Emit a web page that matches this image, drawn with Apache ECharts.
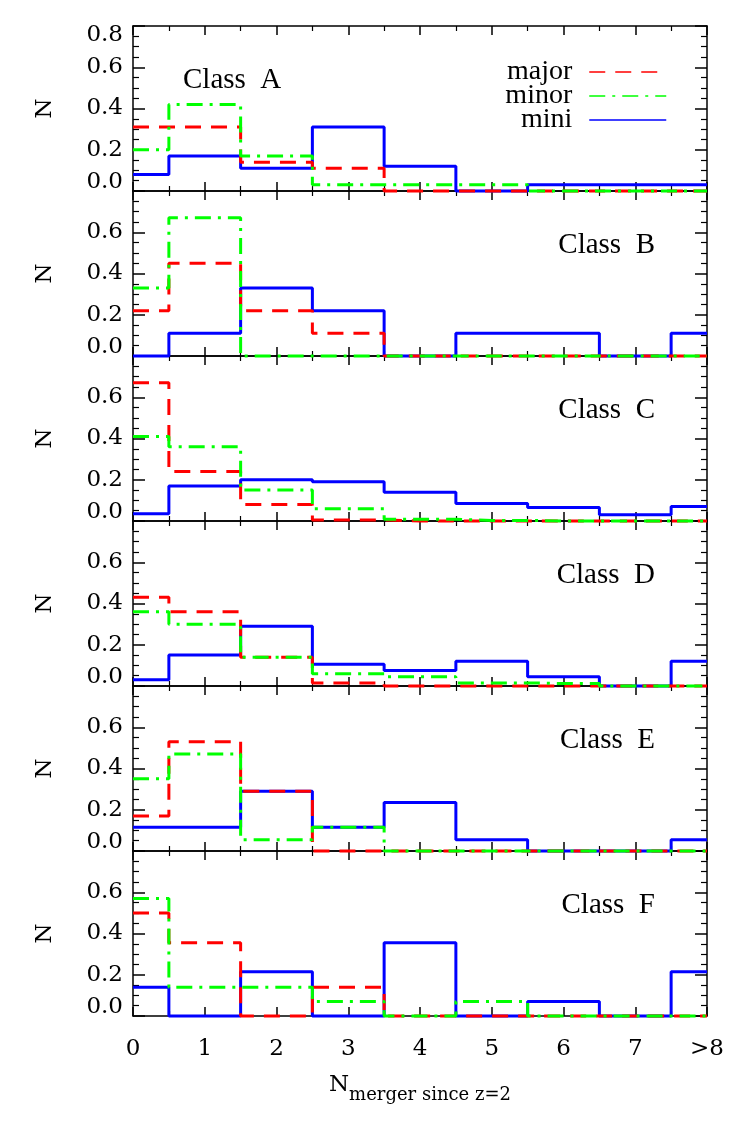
<!DOCTYPE html>
<html>
<head>
<meta charset="utf-8">
<script src="https://cdn.jsdelivr.net/npm/echarts@6/dist/echarts.min.js"></script>
<style>
  html, body { margin: 0; padding: 0; background: #fff; }
  #chart { width: 747px; height: 1122px; }
</style>
</head>
<body>
<div id="chart"></div>
<script>
// bin centres on the x axis and their tick labels
var binCenters = [0, 1, 2, 3, 4, 5, 6, 7, 8];
var xTickLabels = ['0', '1', '2', '3', '4', '5', '6', '7', '>8'];
var seriesNames = ['major', 'minor', 'mini'];
var classNames = ['Class A', 'Class B', 'Class C', 'Class D', 'Class E', 'Class F'];

// Class A
var majorA = [0.31, 0.31, 0.14, 0.11, 0, 0, 0, 0, 0];
var minorA = [0.20, 0.42, 0.17, 0.03, 0.03, 0.03, 0, 0, 0];
var miniA  = [0.08, 0.17, 0.11, 0.31, 0.12, 0, 0.03, 0.03, 0.03];
// Class B
var majorB = [0.22, 0.45, 0.22, 0.11, 0, 0, 0, 0, 0];
var minorB = [0.33, 0.67, 0, 0, 0, 0, 0, 0, 0];
var miniB  = [0, 0.11, 0.33, 0.22, 0, 0.11, 0.11, 0, 0.11];
// Class C
var majorC = [0.67, 0.24, 0.08, 0.005, 0, 0, 0, 0, 0];
var minorC = [0.41, 0.36, 0.15, 0.06, 0.008, 0.003, 0, 0, 0];
var miniC  = [0.035, 0.17, 0.20, 0.19, 0.14, 0.085, 0.065, 0.03, 0.07];
// Class D
var majorD = [0.43, 0.36, 0.14, 0.015, 0, 0, 0, 0, 0];
var minorD = [0.36, 0.30, 0.14, 0.06, 0.045, 0.015, 0.012, 0, 0];
var miniD  = [0.03, 0.15, 0.29, 0.105, 0.075, 0.12, 0.045, 0, 0.12];
// Class E
var majorE = [0.17, 0.53, 0.29, 0, 0, 0, 0, 0, 0];
var minorE = [0.35, 0.47, 0.055, 0.115, 0, 0, 0, 0, 0];
var miniE  = [0.115, 0.115, 0.29, 0.115, 0.235, 0.055, 0, 0, 0.055];
// Class F
var majorF = [0.50, 0.355, 0, 0.14, 0, 0, 0, 0, 0];
var minorF = [0.57, 0.14, 0.14, 0.07, 0, 0.07, 0, 0, 0];
var miniF  = [0.14, 0, 0.215, 0, 0.355, 0, 0.07, 0, 0.215];

var panels = [
  [majorA, minorA, miniA],
  [majorB, minorB, miniB],
  [majorC, minorC, miniC],
  [majorD, minorD, miniD],
  [majorE, minorE, miniE],
  [majorF, minorF, miniF]
];

var colors = { major: '#ff0000', minor: '#00ff00', mini: '#0000ff' };
var dashes = { major: [16, 10], minor: [16, 7, 3, 7], mini: 'solid' };
var tickFont = 'DejaVu Serif';
var textFont = 'Liberation Serif';

var gridLeft = 133, gridWidth = 574, gridTop = 26, panelH = 165;

var myChart = echarts.init(document.getElementById('chart'));

var grids = [], xAxes = [], yAxes = [], series = [], graphics = [];

panels.forEach(function (vals, i) {
  var last = i === panels.length - 1;
  grids.push({ left: gridLeft, width: gridWidth, top: gridTop + panelH * i, height: panelH });

  // bottom and top x axes (ticks pointing in)
  ['bottom', 'top'].forEach(function (pos) {
    xAxes.push({
      gridIndex: i, type: 'value', position: pos, min: 0, max: 8, interval: 1,
      axisLine: { onZero: false, lineStyle: { color: '#000', width: 1.5 } },
      axisTick: { inside: true, length: 9, lineStyle: { color: '#000', width: 1.5 } },
      minorTick: { show: true, splitNumber: 2, length: 5, lineStyle: { color: '#000', width: 1.2 } },
      splitLine: { show: false },
      axisLabel: {
        show: last && pos === 'bottom', margin: 22, color: '#000',
        fontFamily: tickFont, fontSize: 23,
        formatter: function (v) { return xTickLabels[binCenters.indexOf(v)]; }
      },
      name: last && pos === 'bottom' ? '{a|N}{b|merger since z=2}' : '',
      nameLocation: 'middle', nameGap: 58,
      nameTextStyle: {
        rich: {
          a: { fontFamily: tickFont, fontSize: 23, color: '#000', lineHeight: 30, verticalAlign: 'top' },
          b: { fontFamily: tickFont, fontSize: 18, color: '#000', lineHeight: 30, verticalAlign: 'bottom' }
        }
      }
    });
  });

  // left (labelled) and right y axes
  ['left', 'right'].forEach(function (pos) {
    yAxes.push({
      gridIndex: i, type: 'value', position: pos, min: 0, max: 0.8, interval: 0.2,
      axisLine: { show: true, onZero: false, lineStyle: { color: '#000', width: 1.5 } },
      axisTick: { inside: true, length: 12, lineStyle: { color: '#000', width: 1.5 } },
      minorTick: { show: true, splitNumber: 4, length: 6, lineStyle: { color: '#000', width: 1.2 } },
      splitLine: { show: false },
      axisLabel: {
        show: pos === 'left', margin: 10, color: '#000',
        fontFamily: tickFont, fontSize: 23, lineHeight: 18,
        showMaxLabel: i === 0,
        verticalAlignMinLabel: 'bottom',
        verticalAlignMaxLabel: 'top',
        formatter: function (v) { return v.toFixed(1); }
      },
      name: pos === 'left' ? 'N' : '',
      nameLocation: 'middle', nameGap: 76, nameRotate: 90,
      nameTextStyle: { fontFamily: tickFont, fontSize: 23, color: '#000' }
    });
  });

  // draw order: mini, major, minor on top
  [2, 0, 1].forEach(function (k) {
    var name = seriesNames[k];
    series.push({
      name: name, type: 'line', step: 'middle',
      xAxisIndex: i * 2, yAxisIndex: i * 2,
      symbol: 'none', clip: false, silent: true,
      data: binCenters.map(function (x, j) { return [x, vals[k][j]]; }),
      lineStyle: { color: colors[name], width: 3, type: dashes[name] },
      itemStyle: { color: colors[name] }
    });
  });

  // class label
  graphics.push({
    type: 'text',
    x: i === 0 ? 183 : 655,
    y: gridTop + panelH * i + 54,
    style: {
      text: classNames[i].replace(' ', '  '),
      fill: '#000', font: '29px "' + textFont + '"',
      textAlign: i === 0 ? 'left' : 'right', textVerticalAlign: 'middle'
    }
  });
});

myChart.setOption({
  animation: false,
  grid: grids,
  xAxis: xAxes,
  yAxis: yAxes,
  series: series,
  graphic: graphics,
  legend: {
    data: seriesNames,
    orient: 'vertical', align: 'right',
    right: 75, top: 53,
    itemWidth: 77, itemHeight: 14, itemGap: -4,
    itemStyle: { opacity: 0 },
    lineStyle: { width: 1.5 },
    textStyle: { fontFamily: textFont, fontSize: 28, lineHeight: 21, color: '#000', padding: [0, 12, 0, 0] },
    selectedMode: false
  }
});
</script>
</body>
</html>
